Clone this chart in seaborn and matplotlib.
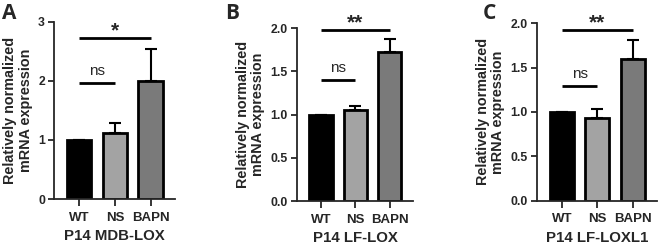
import matplotlib
matplotlib.use("Agg")
import matplotlib.pyplot as plt
import seaborn as sns
import pandas as pd

sns.set_theme(style="ticks")
plt.rcParams['font.family'] = ['Liberation Sans', 'DejaVu Sans']

groups = ["WT", "NS", "BAPN"]
colors = ["#000000", "#a3a3a3", "#7a7a7a"]

titles = ["P14 MDB-LOX", "P14 LF-LOX", "P14 LF-LOXL1"]
letters = ["A", "B", "C"]

means_a = [1.0, 1.12, 2.0]
err_a = [0.0, 0.16, 0.53]
means_b = [1.0, 1.05, 1.72]
err_b = [0.0, 0.05, 0.16]
means_c = [1.0, 0.93, 1.60]
err_c = [0.0, 0.105, 0.21]

ylims = [(0, 3), (0, 2), (0, 2)]
yticks = [[0, 1, 2, 3], [0.0, 0.5, 1.0, 1.5, 2.0], [0.0, 0.5, 1.0, 1.5, 2.0]]
ytick_labels = [["0", "1", "2", "3"], ["0.0", "0.5", "1.0", "1.5", "2.0"], ["0.0", "0.5", "1.0", "1.5", "2.0"]]

ns_y = [1.96, 1.40, 1.29]
sig_y = [2.72, 1.98, 1.92]
sig_text = ["*", "**", "**"]

fig = plt.figure(figsize=(6.58, 2.47), dpi=100)
W, H = 658, 247
boxes = [(54, 175, 21.7, 199), (297, 413, 28.3, 201), (537, 657, 23.3, 200.5)]
letter_x = [2, 225, 483]

for i, (means, errs) in enumerate([(means_a, err_a), (means_b, err_b), (means_c, err_c)]):
    l, r, t, b = boxes[i]
    ax = fig.add_axes([l / W, 1 - b / H, (r - l) / W, (b - t) / H])
    df = pd.DataFrame({"group": groups, "value": means})
    sns.barplot(data=df, x="group", y="value", hue="group", palette=colors,
                order=groups, hue_order=groups, legend=False, width=0.68,
                edgecolor="black", linewidth=2, ax=ax, errorbar=None)
    ax.errorbar(range(3), means, yerr=[[0, 0, 0], errs], fmt="none",
                ecolor="black", elinewidth=1.5, capsize=4, capthick=1.5)
    ax.set_xlim(-0.7, 2.68)
    ax.set_ylim(*ylims[i])
    ax.set_yticks(yticks[i])
    ax.set_yticklabels(ytick_labels[i], fontsize=8.8, fontweight="bold")
    ax.set_xticks(range(3))
    ax.set_xticklabels(groups, fontsize=9.5, fontweight="bold")
    ax.set_xlabel(titles[i], fontsize=10.8, fontweight="bold", labelpad=4)
    ax.set_ylabel("Relatively normalized\nmRNA expression", fontsize=10.4,
                  fontweight="bold", labelpad=4, linespacing=1.1)
    for s in ["top", "right"]:
        ax.spines[s].set_visible(False)
    for s in ["left", "bottom"]:
        ax.spines[s].set_linewidth(1.3)
    ax.tick_params(axis="y", width=1.3, length=4, pad=2.5)
    ax.tick_params(axis="x", width=1.3, length=5, pad=4)
    # significance
    ax.plot([0, 1], [ns_y[i], ns_y[i]], color="black", lw=2, solid_capstyle="butt", clip_on=False)
    ax.annotate("ns", (0.5, ns_y[i]), xytext=(0, 6), textcoords="offset points",
                ha="center", va="baseline", fontsize=11)
    ax.plot([0, 2], [sig_y[i], sig_y[i]], color="black", lw=2, solid_capstyle="butt", clip_on=False)
    ax.annotate(sig_text[i], (1.0, sig_y[i]), xytext=(0, 1.5), textcoords="offset points",
                ha="center", va="baseline", fontsize=15, fontweight="bold", annotation_clip=False)
    fig.text(letter_x[i] / W, 1 - 3 / H, letters[i], ha="left", va="top",
             fontsize=15, fontweight="bold", family=["Open Sans", "DejaVu Sans"])

fig.savefig("out.png", dpi=100)
